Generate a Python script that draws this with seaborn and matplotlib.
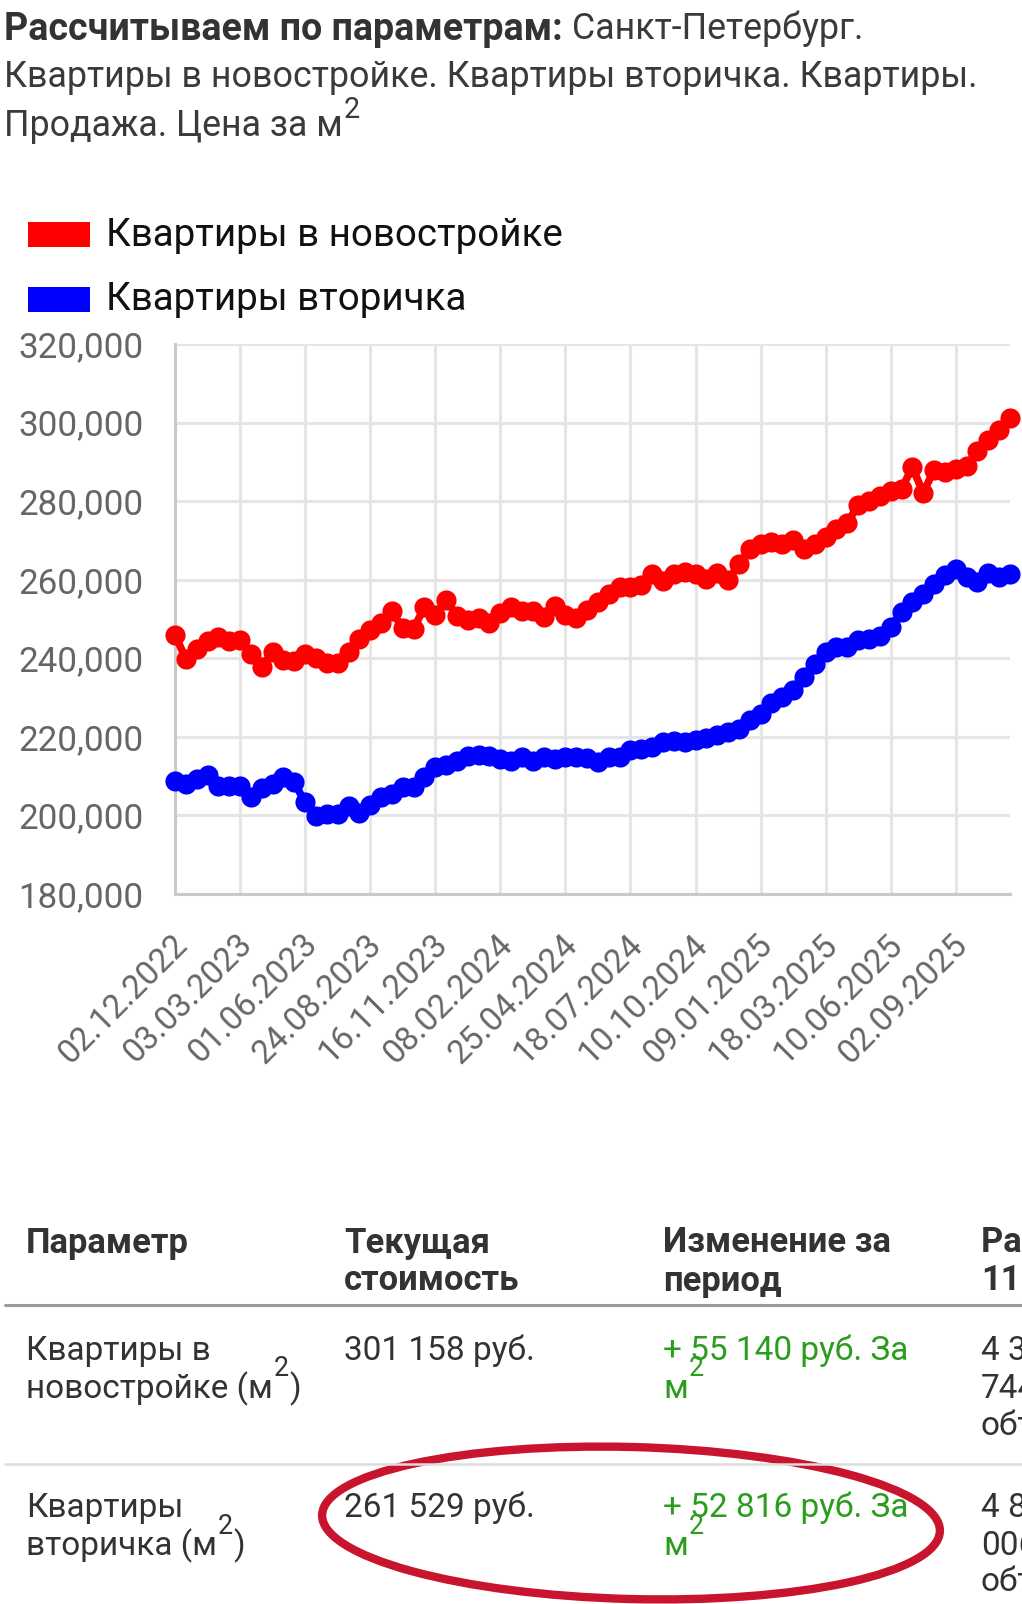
import numpy as np
import pandas as pd
import matplotlib
matplotlib.use("Agg")
import matplotlib.pyplot as plt
import seaborn as sns
from matplotlib.patches import Rectangle, Ellipse
from matplotlib.ticker import FuncFormatter
from matplotlib.lines import Line2D
from matplotlib.transforms import ScaledTranslation

# ---------------- data ----------------
series_names = ["Квартиры в новостройке", "Квартиры вторичка"]
series_colors = ["#ff0000", "#0000ff"]

new_build = [
    246018, 239800, 242300, 244300, 245500, 244300, 244600, 241100, 237800, 241500,
    239500, 239200, 241100, 240000, 238900, 238900, 241700, 244900, 247200, 249000,
    252000, 247700, 247500, 253000, 251000, 254900, 250800, 249700, 250300, 248900,
    251600, 253100, 252100, 252100, 250400, 253400, 251000, 250200, 252200, 254300,
    256300, 258100, 258100, 258600, 261500, 259700, 261500, 262000, 261500, 260200,
    261600, 259900, 263900, 267900, 269200, 269600, 269000, 270000, 267900, 269200,
    270900, 272800, 274500, 279000, 280100, 281300, 282500, 283200, 288600, 282100,
    288000, 287500, 288100, 289000, 292800, 295500, 298200, 301158,
]
secondary = [
    208713, 208000, 209200, 210300, 207500, 207500, 207500, 204700, 207100, 208100,
    209700, 208400, 203300, 199900, 200300, 200300, 202400, 200700, 202600, 204600,
    205500, 207300, 207300, 209700, 212400, 212900, 213900, 215200, 215400, 215200,
    214300, 213900, 214800, 213900, 214800, 214300, 214800, 214900, 214600, 213500,
    214900, 214800, 216600, 216900, 217300, 218600, 219000, 218800, 219200, 219700,
    220400, 221300, 222100, 224200, 225900, 228500, 230200, 231800, 235200, 238600,
    241600, 242900, 242900, 244600, 245000, 245600, 248000, 251800, 254400, 256300,
    259000, 261300, 262800, 260800, 259500, 261800, 260600, 261529,
]
tick_labels = ["02.12.2022", "03.03.2023", "01.06.2023", "24.08.2023", "16.11.2023",
               "08.02.2024", "25.04.2024", "18.07.2024", "10.10.2024", "09.01.2025",
               "18.03.2025", "10.06.2025", "02.09.2025"]
tick_step = 6
y_ticks = [180000, 200000, 220000, 240000, 260000, 280000, 300000, 320000]

title_bold = "Рассчитываем по параметрам:"
title_rest = " Санкт-Петербург."
title_line2 = "Квартиры в новостройке. Квартиры вторичка. Квартиры."
title_line3 = "Продажа. Цена за м"

table_header = [["Параметр", ""], ["Текущая", "стоимость"], ["Изменение за", "период"],
                ["Рассчитано на", "11.12.2025"]]
row_params = [["Квартиры в", "новостройке (м"], ["Квартиры", "вторичка (м"]]
row_prices = ["301 158 руб.", "261 529 руб."]
row_changes = ["+ 55 140 руб. За", "+ 52 816 руб. За"]
row_counts = [["4 326 из", "7441", "объявлений"], ["4 872 из", "0062", "объявлений"]]

# ---------------- figure ----------------
sns.set_style("white")
plt.rcParams["font.family"] = ["Roboto", "DejaVu Sans"]

W, H = 1022, 1604
fig = plt.figure(figsize=(W / 100, H / 100), dpi=100)
renderer = fig.canvas.get_renderer()

ov = fig.add_axes([0, 0, 1, 1])
ov.set_xlim(0, W)
ov.set_ylim(H, 0)
ov.axis("off")


def width_px(t):
    return t.get_window_extent(renderer=renderer).width


def fit_size(s, target, weight="normal", base=25):
    t = ov.text(0, 0, s, fontsize=base, fontweight=weight)
    w = width_px(t)
    t.remove()
    return base * target / w


def put(x, y, s, size, **kw):
    kw.setdefault("va", "center")
    kw.setdefault("ha", "left")
    return ov.text(x, y, s, fontsize=size, **kw)


# ---- title ----
tsize = fit_size(title_line2, 972)
bsize = fit_size(title_bold, 559, weight="bold")
tcol = "#3a3a3a"
t1 = put(4, 29, title_bold, bsize, color="#333333", fontweight="bold")
put(4 + width_px(t1), 29, title_rest, tsize, color=tcol)
put(4, 77, title_line2, tsize, color=tcol)
t3 = put(4, 126, title_line3, tsize, color=tcol)
put(4 + width_px(t3) + 1, 110, "2", tsize * 0.8, color=tcol)

# ---- legend ----
lsize = fit_size(series_names[0], 456)
leg_y = [235, 300]
for name, col, yy in zip(series_names, series_colors, leg_y):
    ov.add_patch(Rectangle((28, yy - 13), 62, 25, facecolor=col, edgecolor="none"))
    put(106, yy, name, lsize, color="#111111")

# ---- chart ----
x0, x1, y0, y1 = 175, 1010, 344, 894
ax = fig.add_axes([x0 / W, 1 - y1 / H, (x1 - x0) / W, (y1 - y0) / H])
idx = np.arange(len(new_build))
df = pd.DataFrame({
    "idx": np.concatenate([idx, idx]),
    "value": new_build + secondary,
    "series": [series_names[0]] * len(new_build) + [series_names[1]] * len(secondary),
})
sns.lineplot(data=df, x="idx", y="value", hue="series", hue_order=series_names,
             palette=series_colors, marker="o", markersize=14.5, markeredgewidth=0,
             linewidth=5.5, legend=False, ax=ax, clip_on=False, zorder=3)

ax.set_xlim(0, len(new_build) - 1)
ax.set_ylim(y_ticks[0], y_ticks[-1])
ax.set_yticks(y_ticks)
ax.yaxis.set_major_formatter(FuncFormatter(lambda v, p: f"{int(v):,}"))
ax.set_xticks(range(0, len(new_build), tick_step)[:len(tick_labels)])
ax.set_xticklabels(tick_labels)
ax.set_xlabel("")
ax.set_ylabel("")

gcol = "#e5e5e5"
ax.grid(True, color=gcol, linewidth=2.2)
ax.set_axisbelow(True)
for s in ["top", "right"]:
    ax.spines[s].set_visible(False)
for s in ["left", "bottom"]:
    ax.spines[s].set_color("#c9c9c9")
    ax.spines[s].set_linewidth(2.2)

ax.tick_params(axis="y", length=15.8, width=2.2, color=gcol, pad=7,
               labelsize=25.2, labelcolor="#666666")
ax.tick_params(axis="x", length=15.8, width=2.2, color=gcol, pad=17,
               labelsize=24, labelcolor="#666666")
shift = ScaledTranslation(0.07, 0, fig.dpi_scale_trans)
for lbl in ax.get_xticklabels():
    lbl.set_rotation(45)
    lbl.set_ha("right")
    lbl.set_va("center")
    lbl.set_rotation_mode("anchor")
    lbl.set_transform(lbl.get_transform() + shift)

# ---- table ----
hsize = fit_size("Параметр", 163, weight="bold")
rsize = fit_size(row_prices[0], 191)
col_x = [26, 344, 663, 981]
hc = "#333333"
for cx, (l1, l2) in zip(col_x, table_header):
    put(cx, 1243, l1, hsize, color=hc, fontweight="bold")
    if l2:
        put(cx, 1281, l2, hsize, color=hc, fontweight="bold")

ov.add_line(Line2D([5, W], [1305, 1305], color="#9a9a9a", linewidth=2.2))
ov.add_line(Line2D([5, W], [1464, 1464], color="#dcdcdc", linewidth=1.8))

green = "#2a9d1c"
row_y = [[1351, 1389, 1426], [1508, 1546, 1582]]
for r in range(2):
    ya, yb, yc = row_y[r]
    put(col_x[0], ya, row_params[r][0], rsize, color=hc)
    tp = put(col_x[0], yb, row_params[r][1], rsize, color=hc)
    wp = width_px(tp)
    t2 = put(col_x[0] + wp + 1, yb - 20, "2", rsize * 0.8, color=hc)
    put(col_x[0] + wp + width_px(t2) + 1, yb, ")", rsize, color=hc)
    put(col_x[1], ya, row_prices[r], rsize, color=hc)
    put(col_x[2], ya, row_changes[r], rsize, color=green)
    tm = put(col_x[2], yb, "м", rsize, color=green)
    put(col_x[2] + width_px(tm) + 1, yb - 20, "2", rsize * 0.8, color=green)
    for k, yy in enumerate([ya, yb, yc]):
        put(col_x[3], yy, row_counts[r][k], rsize, color=hc)

# hand-drawn highlight
ov.add_patch(Ellipse((631, 1523), 618, 152, angle=1.5, facecolor="none",
                     edgecolor="#c8142c", linewidth=6))

fig.savefig("out.png", dpi=100)
